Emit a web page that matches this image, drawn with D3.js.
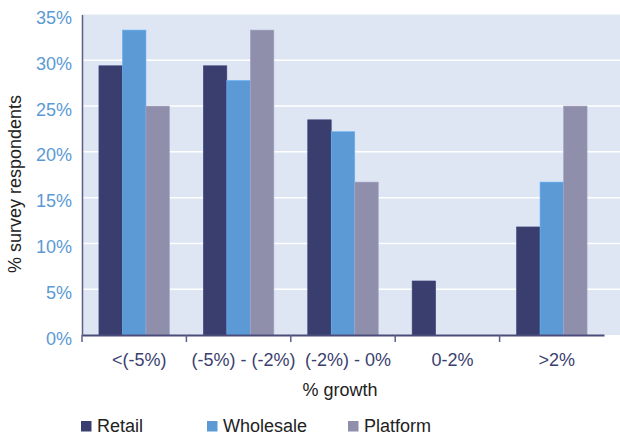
<!DOCTYPE html>
<html>
<head>
<meta charset="utf-8">
<script src="https://cdn.jsdelivr.net/npm/d3@7"></script>
<style>
  body { margin: 0; background: #fff; }
  svg { display: block; font-family: "Liberation Sans", Arial, sans-serif; }
</style>
</head>
<body>
<div id="chart"></div>
<script>
// data
const categories = ["<(-5%)", "(-5%) - (-2%)", "(-2%) - 0%", "0-2%", ">2%"];
const seriesNames = ["Retail", "Wholesale", "Platform"];
const retail    = [29.4, 29.4, 23.5, 5.9, 11.8];
const wholesale = [33.3, 27.8, 22.2, 0, 16.7];
const platform  = [25.0, 33.3, 16.7, 0, 25.0];
const yTicks = [0, 5, 10, 15, 20, 25, 30, 35];

const colors = {Retail: "#393e6e", Wholesale: "#5b9ad5", Platform: "#8f8eab"};

const W = 620, H = 435;
const plot = {left: 82, right: 604, bgRight: 620, top: 14.5, bottom: 335};

const svg = d3.select("#chart").append("svg")
  .attr("width", W)
  .attr("height", H);

const x0 = d3.scaleBand()
  .domain(categories)
  .range([plot.left, plot.right])
  .paddingInner(0).paddingOuter(0);

const x1 = d3.scaleBand()
  .domain(seriesNames)
  .range([0, x0.bandwidth()])
  .paddingInner(0).paddingOuter(0.72);

const y = d3.scaleLinear()
  .domain([0, 35])
  .range([plot.bottom, plot.top]);

// plot background
svg.append("rect")
  .attr("x", plot.left)
  .attr("y", plot.top)
  .attr("width", plot.bgRight - plot.left)
  .attr("height", plot.bottom - plot.top)
  .attr("fill", "#dee6f4");

// gridlines
svg.append("g")
  .selectAll("line")
  .data(yTicks.filter(d => d > 0 && d < 35))
  .join("line")
  .attr("x1", plot.left)
  .attr("x2", plot.bgRight)
  .attr("y1", d => y(d))
  .attr("y2", d => y(d))
  .attr("stroke", "#fff")
  .attr("stroke-width", 1.5);

// bars
const rows = categories.map((c, i) => ({
  cat: c,
  vals: [
    {key: "Retail", v: retail[i]},
    {key: "Wholesale", v: wholesale[i]},
    {key: "Platform", v: platform[i]}
  ]
}));

svg.append("g")
  .selectAll("g")
  .data(rows)
  .join("g")
  .attr("transform", d => `translate(${x0(d.cat)},0)`)
  .selectAll("rect")
  .data(d => d.vals.filter(v => v.v > 0))
  .join("rect")
  .attr("x", d => x1(d.key))
  .attr("y", d => y(d.v))
  .attr("width", x1.bandwidth())
  .attr("height", d => y(0) - y(d.v))
  .attr("fill", d => colors[d.key])
  .attr("stroke", d => d3.color(colors[d.key]).brighter(0.4))
  .attr("stroke-width", 0.6);

// y axis
const yAxis = svg.append("g")
  .attr("transform", `translate(${plot.left},0)`)
  .call(d3.axisLeft(y).tickValues(yTicks).tickFormat(d => d + "%").tickSize(0).tickPadding(10));
yAxis.select(".domain").attr("stroke", "#5d5d88").attr("stroke-width", 1.5);
yAxis.selectAll("text")
  .attr("fill", "#5b9ad5")
  .attr("font-size", 18)
  .attr("dy", "0.5em");

// x axis
const xAxis = svg.append("g")
  .attr("transform", `translate(0,${plot.bottom})`)
  .call(d3.axisBottom(x0).tickSize(0).tickPadding(0));
xAxis.select(".domain").attr("stroke", "#4b4d78").attr("stroke-width", 2);
xAxis.selectAll(".tick text")
  .attr("fill", "#3b3f6f")
  .attr("font-size", 18)
  .attr("dx", 5)
  .attr("dy", 0)
  .attr("y", 31);

// category boundary ticks
svg.append("g")
  .selectAll("line")
  .data(categories)
  .join("line")
  .attr("x1", d => x0(d))
  .attr("x2", d => x0(d))
  .attr("y1", plot.bottom)
  .attr("y2", plot.bottom + 7)
  .attr("stroke", "#5d5d88")
  .attr("stroke-width", 1.5);

// axis titles
svg.append("text")
  .attr("transform", `translate(21,${184}) rotate(-90)`)
  .attr("text-anchor", "middle")
  .attr("font-size", 18)
  .attr("fill", "#222")
  .text("% survey respondents");

svg.append("text")
  .attr("x", (plot.left + plot.right) / 2 - 3)
  .attr("y", 396)
  .attr("text-anchor", "middle")
  .attr("font-size", 18)
  .attr("fill", "#222")
  .text("% growth");

// legend
const legendX = [81, 207, 348];
const legend = svg.append("g")
  .selectAll("g")
  .data(seriesNames)
  .join("g")
  .attr("transform", (d, i) => `translate(${legendX[i]},432)`);
legend.append("rect")
  .attr("x", 0)
  .attr("y", -11)
  .attr("width", 10.5)
  .attr("height", 10.5)
  .attr("fill", d => colors[d]);
legend.append("text")
  .attr("x", 16)
  .attr("y", 0)
  .attr("font-size", 18)
  .attr("fill", "#222")
  .text(d => d);
</script>
</body>
</html>
